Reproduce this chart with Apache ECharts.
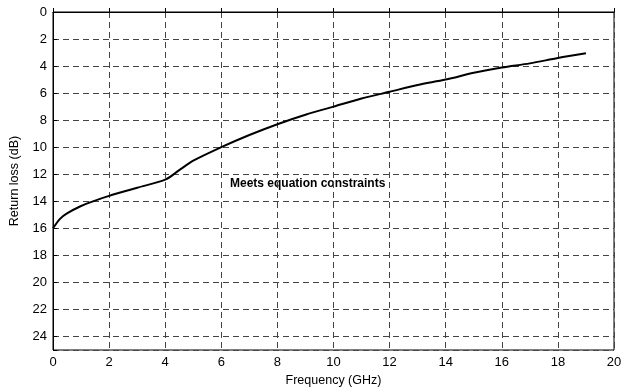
<!DOCTYPE html>
<html>
<head>
<meta charset="utf-8">
<script src="https://cdn.jsdelivr.net/npm/echarts@6/dist/echarts.min.js"></script>
<style>
  html, body { margin: 0; padding: 0; background: #fff; }
  #chart { width: 631px; height: 392px; }
</style>
</head>
<body>
<div id="chart"></div>
<script>
// frequency (GHz) and return loss (dB)
const freq = [0, 0.25, 0.5, 1, 1.5, 2, 3, 4, 4.5, 5, 6, 7, 8, 9, 10, 11, 12, 13, 14, 15, 16, 17, 18, 19]
const returnLoss = [16, 15.3, 14.9, 14.35, 13.95, 13.6, 13.0, 12.4, 11.7, 11.0, 10.0, 9.1, 8.3, 7.6, 7.0, 6.4, 5.9, 5.4, 5.0, 4.5, 4.1, 3.8, 3.4, 3.05]
const note = 'Meets equation constraints'

const chart = echarts.init(document.getElementById('chart'))
const font = 'Liberation Sans, Arial, sans-serif'

const gridLine = {
  show: true,
  lineStyle: { color: '#444', type: [6, 4], width: 1 }
}

const option = {
  animation: false,
  grid: {
    left: 53,
    right: 17,
    top: 12,
    bottom: 42,
    show: true,
    borderColor: '#000',
    borderWidth: 1
  },
  xAxis: {
    type: 'value',
    min: 0,
    max: 20,
    interval: 2,
    name: 'Frequency (GHz)',
    nameLocation: 'middle',
    nameGap: 24,
    nameTextStyle: { fontFamily: font, fontSize: 12.5, color: '#000' },
    axisLine: { lineStyle: { color: '#000' } },
    axisTick: { inside: true, length: 4, lineStyle: { color: '#000' } },
    axisLabel: { fontFamily: font, fontSize: 13, color: '#000', margin: 6 },
    splitLine: gridLine
  },
  yAxis: {
    type: 'value',
    inverse: true,
    min: 0,
    max: 25,
    interval: 2,
    name: 'Return loss (dB)',
    nameLocation: 'middle',
    nameGap: 32,
    nameTextStyle: { fontFamily: font, fontSize: 12.5, color: '#000' },
    axisLine: { show: true, lineStyle: { color: '#000' } },
    axisTick: { show: true, inside: true, length: 4, lineStyle: { color: '#000' } },
    axisLabel: {
      fontFamily: font, fontSize: 13, color: '#000', margin: 6,
      formatter: v => (v > 24 ? '' : v)
    },
    splitLine: gridLine
  },
  graphic: [{
    type: 'text',
    left: 230,
    top: 178,
    style: {
      text: note,
      font: 'bold 12px Liberation Sans, Arial, sans-serif',
      fill: '#000'
    }
  }],
  series: [{
    type: 'line',
    data: freq.map((f, i) => [f, returnLoss[i]]),
    smooth: 0.3,
    showSymbol: false,
    lineStyle: { color: '#000', width: 2 }
  }]
}

chart.setOption(option)
</script>
</body>
</html>
